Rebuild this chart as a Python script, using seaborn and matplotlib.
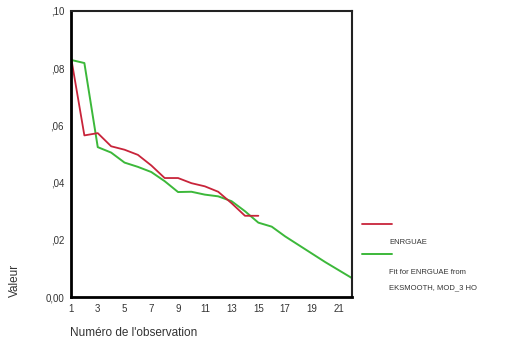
import matplotlib
matplotlib.use("Agg")
import matplotlib.pyplot as plt
import seaborn as sns
import pandas as pd
from matplotlib.lines import Line2D

# Observed series (ENRGUAE), observations 1..15
obs_red = list(range(1, 16))
enrguae = [0.0839, 0.0565, 0.0573, 0.0527, 0.0515, 0.0497, 0.0460, 0.0416,
           0.0416, 0.0398, 0.0387, 0.0368, 0.0328, 0.0284, 0.0284]

# Fitted series (EKSMOOTH), observations 1..22
obs_green = list(range(1, 23))
fit = [0.0829, 0.0818, 0.0524, 0.0505, 0.0470, 0.0455, 0.0437, 0.0405,
       0.0367, 0.0368, 0.0358, 0.0352, 0.0335, 0.0300, 0.0260, 0.0246,
       0.0212, 0.0182, 0.0152, 0.0122, 0.0094, 0.0066]

x_ticks = [1, 3, 5, 7, 9, 11, 13, 15, 17, 19, 21]
y_ticks = [0.0, 0.02, 0.04, 0.06, 0.08, 0.10]
y_labels = ["0,00", ",02", ",04", ",06", ",08", ",10"]

sns.set_style("white")
plt.rcParams['font.family'] = ['Liberation Sans', 'DejaVu Sans']

fig = plt.figure(figsize=(5.27, 3.51), dpi=100)
ax = fig.add_axes([0.1347, 0.1538, 0.5333, 0.8149])

red_df = pd.DataFrame({'obs': obs_red, 'val': enrguae})
green_df = pd.DataFrame({'obs': obs_green, 'val': fit})
sns.lineplot(data=green_df, x='obs', y='val', color='#3cb83a', linewidth=1.4, ax=ax)
sns.lineplot(data=red_df, x='obs', y='val', color='#c8243a', linewidth=1.3, ax=ax)

ax.set_xlim(1, 22)
ax.set_ylim(0, 0.10)
ax.set_xticks(x_ticks)
ax.set_yticks(y_ticks)
ax.set_yticklabels(y_labels)
ax.tick_params(axis='both', labelsize=7, length=3, width=1.5, direction='out',
               colors='black', pad=2)
ax.tick_params(axis='both', labelcolor='#333333')
ax.set_xlabel('')
ax.set_ylabel('')
for side in ['left', 'bottom']:
    ax.spines[side].set_linewidth(2)
    ax.spines[side].set_color('black')
for side in ['top', 'right']:
    ax.spines[side].set_linewidth(1.5)
    ax.spines[side].set_color('#222222')

fig.text(0.133, 0.05, "Numéro de l'observation", fontsize=8.5, color='#333333',
         ha='left', va='center')
fig.text(0.028, 0.20, 'Valeur', fontsize=8.5, color='#333333', rotation=90,
         ha='center', va='center')

# legend in SPSS style: line, then label below it
fig.add_artist(Line2D([0.687, 0.744], [0.362, 0.362], color='#c8243a', linewidth=1.3))
fig.text(0.738, 0.308, 'ENRGUAE', fontsize=5.5, color='#333333', ha='left', va='center')
fig.add_artist(Line2D([0.687, 0.744], [0.277, 0.277], color='#3cb83a', linewidth=1.4))
fig.text(0.738, 0.225, 'Fit for ENRGUAE from', fontsize=5.5, color='#333333',
         ha='left', va='center')
fig.text(0.738, 0.180, 'EKSMOOTH, MOD_3 HO', fontsize=5.5, color='#333333',
         ha='left', va='center')

fig.savefig('out.png', dpi=100)
